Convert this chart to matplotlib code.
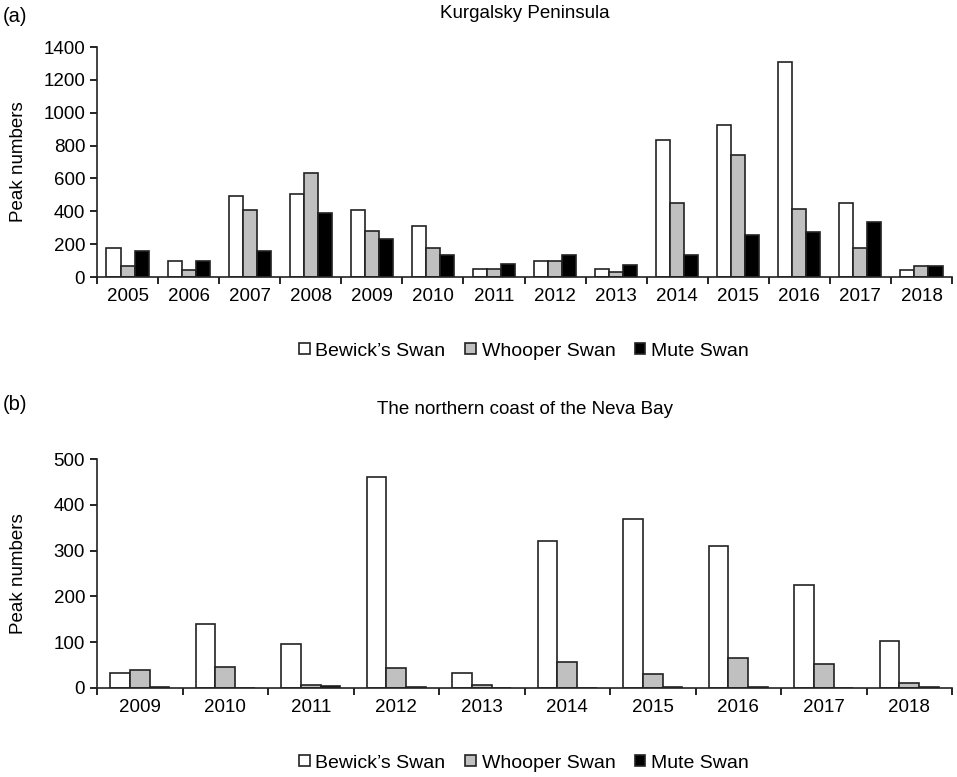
import matplotlib
matplotlib.use("Agg")
import matplotlib.pyplot as plt
import numpy as np

plt.rcParams['font.family'] = ['Liberation Sans', 'DejaVu Sans']

series_names = ["Bewick\u2019s Swan", "Whooper Swan", "Mute Swan"]
colors = ["white", "#c0c0c0", "black"]

years_a = ["2005", "2006", "2007", "2008", "2009", "2010", "2011",
           "2012", "2013", "2014", "2015", "2016", "2017", "2018"]
bewick_a = [174, 95, 495, 503, 406, 311, 50, 95, 50, 832, 925, 1309, 450, 44]
whooper_a = [67, 42, 406, 632, 277, 174, 50, 95, 32, 450, 743, 414, 174, 69]
mute_a = [158, 99, 158, 390, 234, 131, 79, 131, 71, 131, 253, 271, 337, 69]

years_b = ["2009", "2010", "2011", "2012", "2013",
           "2014", "2015", "2016", "2017", "2018"]
bewick_b = [33, 140, 97, 461, 33, 321, 370, 311, 224, 102]
whooper_b = [40, 46, 6, 43, 6, 56, 31, 65, 52, 12]
mute_b = [3, 0, 5, 3, 0, 0, 3, 3, 0, 3]


def draw_panel(ax, years, data, ymax, ystep):
    n = len(years)
    x = np.arange(n)
    w = 0.23
    for i, (vals, c, name) in enumerate(zip(data, colors, series_names)):
        ax.bar(x + (i - 1) * w, vals, width=w, color=c, edgecolor="#222222",
               linewidth=1.2, label=name)
    ax.set_xlim(-0.5, n - 0.5)
    ax.set_ylim(0, ymax)
    ax.set_yticks(np.arange(0, ymax + 1, ystep))
    ax.set_xticks(x)
    ax.set_xticklabels(years)
    ax.set_xticks(np.arange(-0.5, n, 1), minor=True)
    ax.tick_params(axis='x', which='major', length=0, labelsize=13.5, pad=8)
    ax.tick_params(axis='x', which='minor', length=5, width=1.2, direction='out')
    ax.tick_params(axis='y', length=5, width=1.2, labelsize=13.5)
    for s in ["top", "right"]:
        ax.spines[s].set_visible(False)
    for s in ["left", "bottom"]:
        ax.spines[s].set_linewidth(1.2)
        ax.spines[s].set_color("#222222")
    ax.set_ylabel("Peak numbers", fontsize=13.5)
    ax.yaxis.set_label_coords(-(97 - 27) / 855, 0.5)


fig = plt.figure(figsize=(9.57, 7.77), dpi=100)
ax1 = fig.add_axes([97 / 957, 1 - 277 / 777, 855 / 957, 230 / 777])
ax2 = fig.add_axes([97 / 957, 1 - 688 / 777, 855 / 957, 229 / 777])

draw_panel(ax1, years_a, [bewick_a, whooper_a, mute_a], 1400, 200)
draw_panel(ax2, years_b, [bewick_b, whooper_b, mute_b], 500, 100)

for ax, ypos in [(ax1, 351), (ax2, 763)]:
    ax.legend(loc='center', bbox_to_anchor=(524 / 957, 1 - ypos / 777),
              bbox_transform=fig.transFigure, ncol=3, frameon=False,
              fontsize=14, handlelength=0.55, handleheight=0.55,
              handletextpad=0.3, columnspacing=1.0)

fig.text(525 / 957, 1 - 14 / 777, "Kurgalsky Peninsula", fontsize=13.5,
         ha='center', va='center')
fig.text(525 / 957, 1 - 410 / 777, "The northern coast of the Neva Bay",
         fontsize=13.5, ha='center', va='center')
fig.text(3 / 957, 1 - 16 / 777, "(a)", fontsize=14.5, ha='left', va='center')
fig.text(3 / 957, 1 - 405 / 777, "(b)", fontsize=14.5, ha='left', va='center')

fig.savefig("out.png", dpi=100)
